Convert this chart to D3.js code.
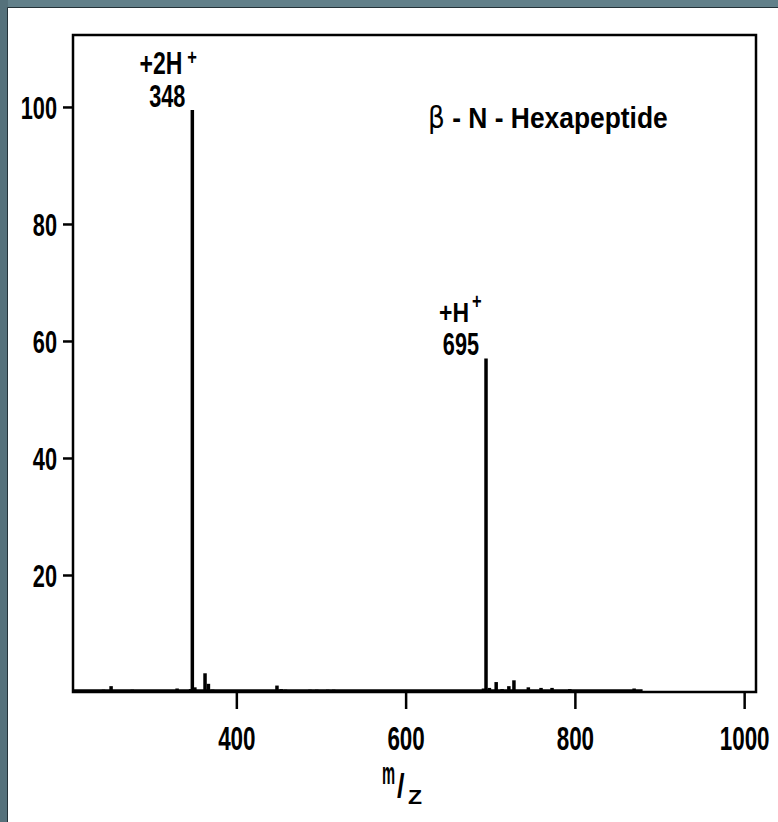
<!DOCTYPE html>
<html>
<head>
<meta charset="utf-8">
<script src="https://cdn.jsdelivr.net/npm/d3@7"></script>
<style>
  html, body { margin: 0; padding: 0; background: #ffffff; }
  svg { display: block; }
  text { font-family: "Liberation Sans", Arial, Helvetica, sans-serif; font-weight: bold; fill: #000; }
</style>
</head>
<body>
<svg id="chart" width="778" height="822"></svg>
<script>
// ---- Data ----
const mzValues = [238, 243, 252, 262, 277, 307, 330, 346, 348, 351, 363, 367, 372, 380, 390, 396,
                  448, 453, 458, 487, 495, 500, 508, 515, 567, 648,
                  692, 695, 699, 707, 714, 722, 728, 745, 760, 773, 794, 870];
const intensities = [0.3, 0.4, 1.0, 0.3, 0.4, 0.3, 0.6, 0.5, 99.5, 0.8, 3.2, 1.4, 0.4, 0.3, 0.3, 0.2,
                     1.1, 0.5, 0.4, 0.4, 0.4, 0.3, 0.4, 0.4, 0.3, 0.3,
                     0.6, 57, 0.7, 1.7, 0.5, 1.0, 2.0, 0.8, 0.7, 0.7, 0.5, 0.6];
const xTicks = [400, 600, 800, 1000];
const yTicks = [20, 40, 60, 80, 100];
const peakLabels = [
  { mz: 348, ion: "+2H", sup: "+", value: "348" },
  { mz: 695, ion: "+H",  sup: "+", value: "695" }
];
const titleText = "β - N - Hexapeptide";
const xLabelParts = ["m", "/", "Z"];
const traceRange = [207, 880];

(function () {
// ---- Layout ----
const svg = d3.select("#chart");
const W = 778, H = 822;
const mLeft = 73, mRight = 756, mTop = 35, mBottom = 692;

// frame (top + left border)
svg.append("rect").attr("x", 0).attr("y", 0).attr("width", W).attr("height", 8).attr("fill", "#62808a");
svg.append("rect").attr("x", 0).attr("y", 0).attr("width", 8).attr("height", H).attr("fill", "#55717b");
svg.append("line").attr("x1", 7.5).attr("x2", W).attr("y1", 7.5).attr("y2", 7.5).attr("stroke", "#243238").attr("stroke-width", 1);
svg.append("line").attr("x1", 7.5).attr("x2", 7.5).attr("y1", 7.5).attr("y2", H).attr("stroke", "#243238").attr("stroke-width", 1);

const x = d3.scaleLinear().domain([207, 1014]).range([mLeft, mRight]);
const y = d3.scaleLinear().domain([0, 112.3]).range([mBottom, mTop]);

const numSX = 0.68;

// Y axis
const yAxis = svg.append("g").attr("transform", `translate(${mLeft},0)`)
  .call(d3.axisLeft(y).tickValues(yTicks).tickSize(10).tickPadding(6).tickFormat(d3.format("d")));
yAxis.select(".domain").remove();
yAxis.selectAll(".tick line").attr("stroke", "#000").attr("stroke-width", 2.5);
yAxis.selectAll(".tick text")
  .attr("font-size", 32).attr("font-family", null).attr("fill", "#000")
  .attr("x", -16 / numSX).attr("dy", "0.36em")
  .attr("transform", `scale(${numSX},1)`);

// X axis
const xAxis = svg.append("g").attr("transform", `translate(0,${mBottom})`)
  .call(d3.axisBottom(x).tickValues(xTicks).tickSize(17).tickPadding(6).tickFormat(d3.format("d")));
xAxis.select(".domain").remove();
xAxis.selectAll(".tick line").attr("stroke", "#000").attr("stroke-width", 2.5);
xAxis.selectAll(".tick text")
  .attr("font-size", 33).attr("font-family", null).attr("fill", "#000")
  .attr("y", 58).attr("dy", 0)
  .attr("transform", `scale(${numSX},1)`);

// baseline trace
svg.append("line")
  .attr("x1", x(traceRange[0])).attr("x2", x(traceRange[1]))
  .attr("y1", mBottom - 1.5).attr("y2", mBottom - 1.5)
  .attr("stroke", "#000").attr("stroke-width", 2.5);

// peaks
const peaks = mzValues.map((m, i) => ({ mz: m, v: intensities[i] }));
svg.append("g").selectAll("line").data(peaks).join("line")
  .attr("x1", d => x(d.mz)).attr("x2", d => x(d.mz))
  .attr("y1", y(0)).attr("y2", d => y(d.v))
  .attr("stroke", "#000")
  .attr("stroke-width", 3.5);

// plot box
svg.append("rect").attr("x", mLeft).attr("y", mTop).attr("width", mRight - mLeft).attr("height", mBottom - mTop)
  .attr("fill", "none").attr("stroke", "#000").attr("stroke-width", 2.5);

// helper for condensed text
function scaledText(g, tx, ty, str, fs, sx, anchor) {
  return g.append("text")
    .attr("transform", `translate(${tx},${ty}) scale(${sx},1)`)
    .attr("text-anchor", anchor).attr("font-size", fs).text(str);
}
const lab = svg.append("g");
{
  const p = peakLabels[0], px = x(p.mz);
  scaledText(lab, px - 10, 74, p.ion, 32, 0.72, "end");
  scaledText(lab, px - 5, 65, p.sup, 22, 0.75, "start");
  scaledText(lab, px - 7, 107, p.value, 31, 0.70, "end");
}
{
  const p = peakLabels[1], px = x(p.mz);
  scaledText(lab, px - 17, 322, p.ion, 27, 0.85, "end");
  scaledText(lab, px - 14, 309, p.sup, 22, 0.75, "start");
  scaledText(lab, px - 7, 355, p.value, 31, 0.70, "end");
}

// title
const title = svg.append("text")
  .attr("transform", `translate(428,128) scale(0.88,1)`)
  .attr("font-size", 30);
title.append("tspan").attr("font-weight", "normal").attr("font-family", "DejaVu Sans, sans-serif").text(titleText.slice(0, 1));
title.append("tspan").text(titleText.slice(1));

// x axis label m/Z
const xl = svg.append("g");
scaledText(xl, 382, 784, xLabelParts[0], 32, 0.46, "start");
scaledText(xl, 397, 797, xLabelParts[1], 34, 0.8, "start").attr("font-weight", "normal");
scaledText(xl, 408, 804, xLabelParts[2], 20, 1.15, "start");
})();
</script>
</body>
</html>
